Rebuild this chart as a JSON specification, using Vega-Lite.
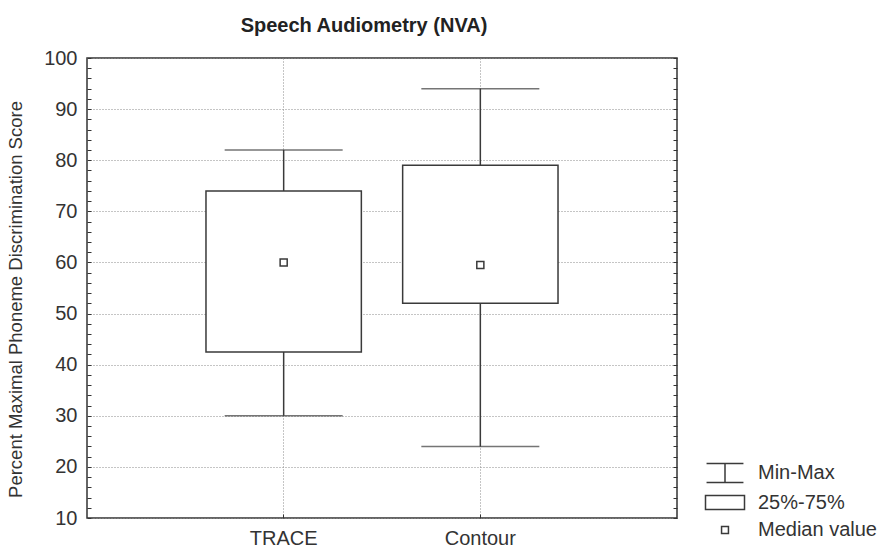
{
  "$schema": "https://vega.github.io/schema/vega-lite/v6.json",
  "autosize": "none",
  "padding": {"left": 87, "top": 58, "right": 202, "bottom": 30},
  "width": 590,
  "height": 460,
  "background": "white",
  "title": {
    "text": "Speech Audiometry (NVA)",
    "font": "Liberation Sans",
    "fontSize": 20,
    "fontWeight": "bold",
    "color": "#222",
    "anchor": "middle",
    "dx": -18,
    "offset": 12
  },
  "config": {
    "view": {"stroke": "#333", "strokeWidth": 1.5},
    "axis": {
      "domain": false,
      "labelFont": "Liberation Sans",
      "titleFont": "Liberation Sans",
      "labelColor": "#333",
      "titleColor": "#333",
      "tickColor": "#333"
    }
  },
  "resolve": {"axis": {"y": "independent"}},
  "datasets": {
    "stats": [
      {"group": "TRACE", "min": 30, "q1": 42.5, "median": 60, "q3": 74, "max": 82},
      {"group": "Contour", "min": 24, "q1": 52, "median": 59.5, "q3": 79, "max": 94}
    ],
    "legendItems": [
      {"item": "Min-Max"},
      {"item": "25%-75%"},
      {"item": "Median value"}
    ]
  },
  "layer": [
    {
      "data": {"name": "stats"},
      "mark": {"type": "rule", "color": "#3a3a3a", "strokeWidth": 1.5},
      "encoding": {
        "x": {
          "field": "group", "type": "nominal", "sort": ["TRACE", "Contour"],
          "scale": {"paddingInner": 0, "paddingOuter": 0.5},
          "axis": {
            "title": null, "labelAngle": 0, "labelFontSize": 20, "labelPadding": 14,
            "tickSize": -4, "bandPosition": 0.5,
            "grid": true, "gridDash": [1, 2], "gridColor": "#8a8a8a", "gridWidth": 1
          }
        },
        "y": {
          "field": "min", "type": "quantitative",
          "scale": {"domain": [10, 100], "nice": false, "zero": false},
          "axis": {
            "title": "Percent Maximal Phoneme Discrimination Score",
            "titleFontSize": 18.5, "titleFontWeight": "normal",
            "titleAngle": -90, "titleX": -72, "titleY": 241, "titleAlign": "center", "titleBaseline": "middle",
            "values": [10,12,14,16,18,20,22,24,26,28,30,32,34,36,38,40,42,44,46,48,50,52,54,56,58,60,62,64,66,68,70,72,74,76,78,80,82,84,86,88,90,92,94,96,98,100],
            "labelExpr": "datum.value % 10 === 0 ? datum.label : ''",
            "labelFontSize": 20, "labelPadding": 14,
            "tickSize": -4,
            "grid": true, "gridDash": [1, 2], "gridColor": "#8a8a8a", "gridWidth": 1,
            "gridOpacity": {"condition": {"test": "datum.value % 10 === 0", "value": 1}, "value": 0}
          }
        },
        "y2": {"field": "max"}
      }
    },
    {
      "data": {"name": "stats"},
      "mark": {"type": "tick", "color": "#3a3a3a", "thickness": 1.5, "size": 118},
      "encoding": {
        "x": {"field": "group", "type": "nominal", "sort": ["TRACE", "Contour"]},
        "y": {"field": "min", "type": "quantitative", "axis": null}
      }
    },
    {
      "data": {"name": "stats"},
      "mark": {"type": "tick", "color": "#3a3a3a", "thickness": 1.5, "size": 118},
      "encoding": {
        "x": {"field": "group", "type": "nominal", "sort": ["TRACE", "Contour"]},
        "y": {"field": "max", "type": "quantitative", "axis": null}
      }
    },
    {
      "data": {"name": "stats"},
      "mark": {"type": "bar", "fill": "white", "stroke": "#3a3a3a", "strokeWidth": 1.5, "width": {"band": 0.79}},
      "encoding": {
        "x": {"field": "group", "type": "nominal", "sort": ["TRACE", "Contour"]},
        "y": {"field": "q1", "type": "quantitative", "axis": null},
        "y2": {"field": "q3"}
      }
    },
    {
      "data": {"name": "stats"},
      "mark": {"type": "point", "shape": "square", "size": 50, "filled": false, "color": "#3a3a3a", "strokeWidth": 1.5, "opacity": 1},
      "encoding": {
        "x": {"field": "group", "type": "nominal", "sort": ["TRACE", "Contour"]},
        "y": {
          "field": "median", "type": "quantitative",
          "axis": {
            "orient": "right", "title": null, "labels": false, "grid": false,
            "values": [10,12,14,16,18,20,22,24,26,28,30,32,34,36,38,40,42,44,46,48,50,52,54,56,58,60,62,64,66,68,70,72,74,76,78,80,82,84,86,88,90,92,94,96,98,100],
            "tickSize": -4
          }
        }
      }
    },
    {
      "data": {"name": "legendItems"},
      "mark": {"type": "point", "filled": false, "opacity": 0, "size": 900, "color": "#3a3a3a"},
      "encoding": {
        "shape": {
          "field": "item", "type": "nominal",
          "scale": {
            "domain": ["Min-Max", "25%-75%", "Median value"],
            "range": [
              "M-1.23,-0.63H1.23M0,-0.63V0.63M-1.23,0.63H1.23",
              "M-1.3,-0.47H1.3V0.47H-1.3Z",
              "M-0.23,-0.23H0.23V0.23H-0.23Z"
            ]
          },
          "legend": {
            "title": null,
            "orient": "none",
            "legendX": 622,
            "legendY": 399,
            "padding": 0,
            "rowPadding": 0.5,
            "symbolSize": 900,
            "symbolOpacity": 1,
            "symbolStrokeColor": "#3a3a3a",
            "symbolFillColor": "transparent",
            "symbolStrokeWidth": 1.5,
            "labelFont": "Liberation Sans",
            "labelFontSize": 20,
            "labelColor": "#333",
            "labelOffset": 17
          }
        }
      }
    }
  ]
}
